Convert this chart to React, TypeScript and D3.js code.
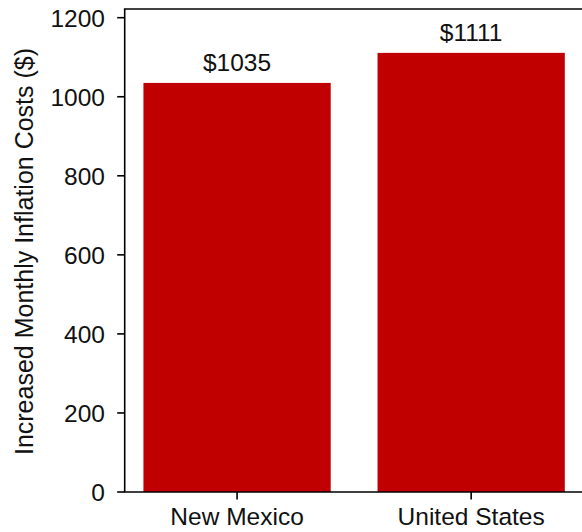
import React from "react";
import * as d3 from "d3";

const categories = ["New Mexico", "United States"];
const values = [1035, 1111];
const valueLabels = ["$1035", "$1111"];
const yTicks = [0, 200, 400, 600, 800, 1000, 1200];
const yLabel = "Increased Monthly Inflation Costs ($)";

const W = 582;
const H = 532;
const left = 124.7;
const top = 9;
const bottom = 492;
const unit = 234.1;
const font = "'Liberation Sans', Arial, sans-serif";
const fs = 24.5;

export default function App() {
  const x = d3.scaleLinear().domain([-0.48, 1.52]).range([left, left + 2 * unit]);
  const y = d3.scaleLinear().domain([0, 1222]).range([bottom, top]);
  const bw = 0.8 * unit;
  const right = x(1.52);
  return (
    <svg
      width={W}
      height={H}
      style={{ position: "absolute", left: 0, top: 0, background: "#fff" }}
      fontFamily={font}
    >
      {values.map((v, i) => (
        <rect
          key={i}
          x={x(i) - bw / 2}
          y={y(v)}
          width={bw}
          height={y(0) - y(v)}
          fill="#c00000"
        />
      ))}
      {values.map((v, i) => (
        <text
          key={"l" + i}
          x={x(i)}
          y={y(v) - 11.5}
          textAnchor="middle"
          fontSize={fs}
          fill="#111"
        >
          {valueLabels[i]}
        </text>
      ))}
      {/* spines */}
      <line x1={left} x2={left} y1={top} y2={bottom} stroke="#000" strokeWidth={1.6} />
      <line x1={left - 0.8} x2={right} y1={bottom} y2={bottom} stroke="#000" strokeWidth={1.6} />
      <line x1={left - 0.8} x2={right} y1={top} y2={top} stroke="#000" strokeWidth={1.6} />
      {yTicks.map((t) => (
        <g key={"t" + t}>
          <line x1={left - 7.5} x2={left} y1={y(t)} y2={y(t)} stroke="#000" strokeWidth={1.6} />
          <text
            x={105}
            y={y(t)}
            dy="0.36em"
            textAnchor="end"
            fontSize={fs}
            fill="#111"
          >
            {t}
          </text>
        </g>
      ))}
      {categories.map((c, i) => (
        <g key={"c" + i}>
          <line x1={x(i)} x2={x(i)} y1={bottom} y2={bottom + 7.5} stroke="#000" strokeWidth={1.6} />
          <text x={x(i)} y={525} textAnchor="middle" fontSize={fs} fill="#111">
            {c}
          </text>
        </g>
      ))}
      <text
        transform={`translate(33,${(top + bottom) / 2 + 1}) rotate(-90)`}
        textAnchor="middle"
        fontSize={25}
        fill="#111"
      >
        {yLabel}
      </text>
    </svg>
  );
}
